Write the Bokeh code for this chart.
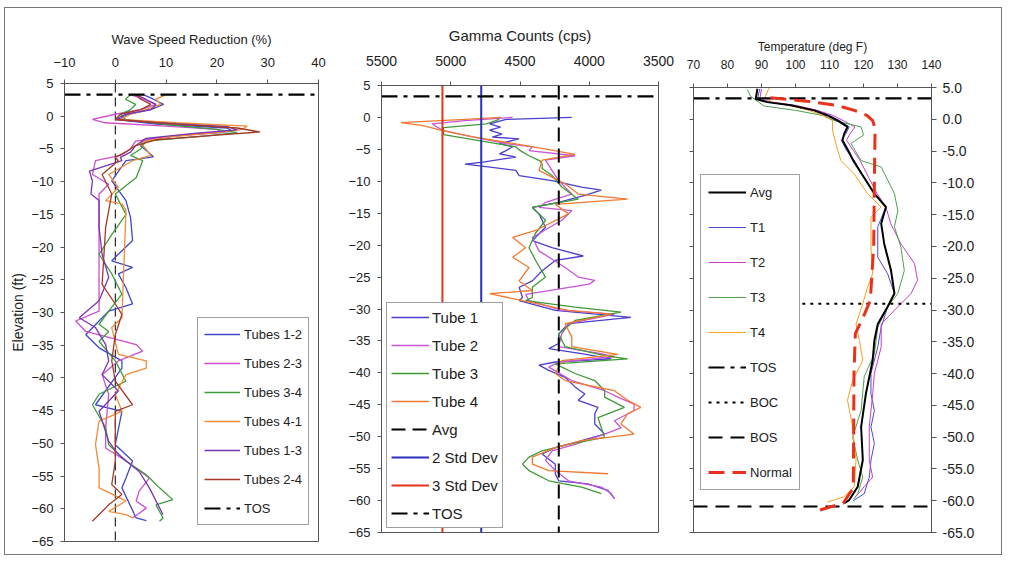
from bokeh.plotting import figure
from bokeh.models import Range1d, FixedTicker, LinearAxis, Legend, LegendItem, NumeralTickFormatter
from bokeh.layouts import row, column
from bokeh.embed import file_html
from bokeh.resources import INLINE

FONT = "Liberation Sans"

# ---------------- common ----------------
elev_ticks = [5, 0, -5, -10, -15, -20, -25, -30, -35, -40, -45, -50, -55, -60, -65]
elev_min, elev_max = -65, 5
tos_elev = 3.3

# ---------------- panel 1 : wave speed reduction ----------------
ws_ticks = [-10, 0, 10, 20, 30, 40]
ws_min, ws_max = -10, 40

t12_e = [3.3, 2.6, 1.8, 1.0, 0.3, -0.5, -1.2, -1.8, -2.3, -2.8, -3.6, -4.5, -5.5, -6.2, -6.8, -9.9, -12.9, -15.5, -19.0, -21.1,
         -22.1, -23.1, -24.1, -26.2, -28.7, -29.8, -31.3, -33.4, -35.4, -37.4, -38.5, -44.1, -45.1, -50.2, -52.7, -55.3, -56.8, -61.4, -61.8]
t12_v = [5.5, 7.5, 9.5, 7, 2.5, 0.5, 8, 22, 23, 14, 5.5, 5, 6.5, 7.5, 2.1, -0.7, 2.1, 3.0, 3.4, 0.6,
         -0.7, 3.4, 0.6, 2.1, 3.4, -1.3, -3.2, -5.8, -3.2, 1.3, 1.3, -3.9, 1.3, 0, 3.4, 2.1, 1.3, 4.1, 6.1]

t23_e = [3.3, 2.6, 1.8, 1.0, 0.3, -0.5, -1.0, -1.5, -2.0, -2.5, -3.0, -3.8, -5.0, -6.0, -6.8, -8.9, -10.4, -11.9, -22.1, -29.8,
         -31.3, -32.9, -34.9, -35.9, -37.4, -39.5, -42.5, -47.6, -50.7, -52.7, -55.3, -57.3, -58.8, -59.9, -61.4]
t23_v = [3, 5.5, 8, 5, 0, -4.5, -2, 10, 20, 21, 12, 4, 3, 1, -3.9, -4.5, -1.3, -3.2, -3.2, -3.2,
         -7.8, -5.8, 4.1, 5.4, 0.6, -2.6, -1.3, -1.9, -1.9, 2.1, 6.7, 4.7, 4.1, 6.1, 3.4]

t34_e = [3.3, 2.6, 1.8, 1.0, 0.3, -0.5, -1.3, -2.0, -2.5, -3.0, -3.8, -5.0, -6.0, -6.8, -9.4, -11.9, -15.0, -18.1, -21.1, -24.1,
         -27.2, -29.8, -31.8, -32.9, -34.4, -37.4, -40.5, -42.5, -44.1, -47.6, -50.2, -52.7, -54.8, -56.8, -58.6, -59.4, -61.4, -61.9]
t34_v = [3, 2, 4, 3, 1, 2, 10, 20, 24, 18, 6, 5, 3, 5.4, 4.1, 0, 2.1, -0.7, -3.2, -0.7,
         1.3, -1.3, -3.2, -1.3, -3.2, 0, 2.1, -3.2, -4.5, -1.9, -1.3, 2.1, 6.1, 8.7, 11.3, 8.0, 9.4, 8.7]

t41_e = [3.3, 2.6, 1.8, 1.0, 0.3, -0.5, -1.0, -1.5, -2.0, -2.5, -3.2, -4.0, -5.0, -6.0, -6.8, -8.9, -10.9, -12.9, -13.4, -14.4,
         -30.8, -32.3, -36.4, -37.4, -38.5, -39.5, -42.5, -45.1, -46.6, -50.2, -53.8, -56.8, -58.8, -60.4, -60.9, -61.4]
t41_v = [10, 8, 9, 6, 3, 1, 12, 26, 25, 20, 10, 5, 6, 7, 3.4, -1.3, 0.6, -1.9, 1.3, 2.1,
         1.3, -0.7, 0.6, 6.1, 6.1, 2.1, 0, 1.3, -3.2, -3.9, -3.2, -3.2, 2.1, -1.3, 2.1, 3.4]

t13_e = [3.3, 2.6, 1.8, 1.0, 0.3, -0.5, -1.0, -1.6, -2.1, -2.6, -3.4, -4.5, -5.5, -6.3, -6.8, -8.4, -9.9, -11.9, -12.9, -17.0,
         -21.1, -24.6, -28.2, -30.8, -32.3, -34.9, -37.4, -39.5, -42.0, -45.1, -49.7, -51.7, -54.3, -56.8, -60.9]
t13_v = [4, 6, 8, 7, 2, 0, 8, 22, 24, 16, 6, 4, 3, 1, 1.3, -5.1, -4.5, -4.8, -3.2, -3.2,
         -2.6, -1.3, -3.2, -7.1, -3.9, -1.9, -1.3, -2.6, 0.6, -3.2, -1.3, 0.6, 4.7, 6.7, 9.4]

t24_e = [3.3, 2.6, 1.8, 1.0, 0.3, -0.5, -1.2, -1.8, -2.4, -2.9, -3.6, -4.5, -5.5, -6.3, -6.8, -8.9, -11.9, -17.0, -25.7, -28.7,
         -30.3, -33.4, -37.4, -40.5, -44.1, -45.1, -52.7, -56.3, -57.8, -59.4, -61.9]
t24_v = [4, 5, 7, 5, 1, 0, 12, 24, 28.5, 20, 8, 4, 2, 0, 0.6, -2.6, -0.7, -1.9, -2.6, 0,
         1.3, 0, -0.7, 0, 3.4, 0, 0, -0.7, 1.3, -1.3, -4.5]

ws_zero = 0

# ---------------- panel 2 : gamma counts ----------------
g_ticks = [5500, 5000, 4500, 4000, 3500]
g_left, g_right = 5500, 3500
g_avg, g_sd2, g_sd3 = 4220, 4780, 5060

tube1_e = [0.0, -0.3, -1.0, -1.5, -2.0, -2.6, -3.1, -3.35, -4.1, -4.6, -5.2, -5.7, -6.2, -7.0, -7.3, -7.6, -8.3, -9.1, -9.9, -10.9,
           -11.4, -12.2, -13.3, -14.1, -15.1, -17.2, -19.3, -20.4, -21.7, -22.4, -24.0, -25.6, -26.6, -28.2, -28.7, -30.2, -31.3, -32.3, -33.9, -35.4,
           -36.2, -37.0, -37.8, -38.3, -38.8, -39.6, -40.7, -42.2, -43.3, -44.3, -45.4, -46.4, -48.0, -49.6, -50.6, -51.7, -52.7, -54.3, -55.8, -56.9,
           -57.4, -58.4, -59.7]
tube1_v = [4126, 4600, 4719, 4640, 4720, 4630, 4700, 4506, 4648, 4553, 4601, 4648, 4530, 4767, 4897, 4790, 4530, 4506, 4269, 4055,
           3913, 4032, 4221, 4411, 4363, 4316, 4411, 4269, 4043, 4245, 4340, 4411, 4506, 4482, 4506, 4245, 3699, 4150, 4221, 4221,
           4292, 4055, 3842, 4245, 4363, 4292, 4174, 4103, 4032, 4079, 3937, 3960, 3960, 3889, 4055, 4245, 4340, 4245, 4245, 4221,
           4010, 3865, 3818]

tube2_e = [0.0, -0.5, -1.0, -1.5, -2.05, -3.0, -4.1, -4.6, -5.2, -6.0, -6.7, -8.3, -9.9, -12.0, -13.3, -14.1, -14.6, -16.1, -18.8, -20.9,
           -23.5, -25.0, -25.5, -26.1, -27.7, -28.7, -30.2, -30.8, -32.3, -33.9, -35.9, -37.0, -37.5, -38.3, -39.1, -41.2, -42.8, -43.8, -44.9, -45.9,
           -47.5, -48.6, -49.6, -51.2, -52.2, -53.7, -55.3, -56.9, -57.9, -58.9, -59.7]
tube2_v = [4553, 4900, 5135, 5100, 5052, 4850, 4600, 4411, 4435, 4103, 4316, 4269, 4221, 4126, 4316, 4363, 4126, 4198, 4411, 4363,
           4174, 4079, 3960, 4000, 4459, 4435, 4198, 3818, 4150, 4198, 4221, 3913, 3818, 4221, 4292, 4126, 3889, 3794, 3676, 3676,
           3818, 3771, 3889, 4103, 4269, 4316, 4245, 4150, 3913, 3842, 3818]

tube3_e = [-0.3, -1.0, -1.6, -2.7, -4.6, -5.2, -6.0, -6.8, -7.3, -8.0, -9.1, -10.9, -12.8, -14.1, -16.1, -18.1, -20.4, -22.4, -25.0, -26.6,
           -28.2, -28.7, -29.7, -30.5, -31.8, -33.9, -35.9, -37.3, -37.8, -38.6, -40.1, -41.2, -42.8, -43.8, -45.4, -47.0, -48.6, -50.1, -51.2, -52.2,
           -53.2, -54.3, -55.3, -56.9, -57.9, -58.9]
tube3_v = [4650, 4743, 5052, 5052, 4530, 4498, 4435, 4356, 4340, 4340, 4269, 4198, 4079, 4411, 4316, 4387, 4435, 4387, 4316, 4411,
           4411, 4459, 4103, 3771, 4103, 4221, 4174, 3889, 3723, 4245, 4103, 3960, 3889, 3889, 3746, 3937, 3913, 3889, 4150, 4340,
           4435, 4482, 4435, 4292, 4055, 3913]

tube4_e = [0.0, -0.3, -0.8, -1.3, -2.0, -3.0, -4.5, -5.0, -5.8, -6.7, -8.3, -10.4, -12.0, -12.8, -13.6, -15.1, -17.7, -18.8, -20.4, -21.9,
           -23.5, -25.6, -27.1, -27.6, -28.7, -30.2, -30.8, -32.3, -34.4, -35.9, -37.1, -38.1, -40.1, -41.2, -42.8, -44.3, -45.4, -46.4, -48.0, -49.6,
           -50.6, -51.7, -53.2, -54.3, -55.3, -55.8]
tube4_v = [4637, 4900, 5360, 5200, 5075, 4850, 4435, 4300, 4103, 4340, 4363, 4174, 4079, 3723, 4245, 4150, 4387, 4553, 4459, 4553,
           4435, 4506, 4411, 4719, 4482, 4150, 3842, 4174, 4126, 4126, 3794, 4198, 4245, 4174, 3818, 3723, 3628, 3723, 3771, 3676,
           4055, 4245, 4411, 4411, 4292, 3865]

# ---------------- panel 3 : temperature ----------------
t_ticks = [70, 80, 90, 100, 110, 120, 130, 140]
t_min, t_max = 70, 140
boc_elev, bos_elev = -29.0, -60.9
boc_start = 102

avg_e = [4.8, 3.2, 2.7, 2.2, 1.4, 0.6, -0.2, -1.2, -2.3, -3.3, -4.9, -6.5, -8.6, -11.7, -13.8, -16.4, -19.6, -23.8, -27.4, -29.5,
         -32.2, -34.8, -37.9, -43.2, -48.4, -53.6, -57.8, -59.9, -60.4]
avg_v = [88.8, 88.3, 91.7, 98.6, 105.5, 109.4, 112.4, 115.3, 114.3, 113.8, 115.5, 117.0, 119.5, 123.2, 126.6, 125.2, 126.1, 128.1, 129.1, 127.1,
         124.2, 123.2, 122.7, 120.7, 119.3, 119.8, 118.3, 115.8, 114.3]

tt1_e = [4.8, 3.2, 2.7, 2.2, 1.4, 0.6, -0.2, -1.2, -2.3, -3.3, -4.9, -6.5, -8.6, -11.7, -13.8, -16.9, -21.7, -24.3, -27.4, -29.5,
         -32.7, -35.8, -40.0, -43.2, -45.8, -48.4, -51.0, -53.6, -56.3, -58.9, -60.0]
tt1_v = [89.5, 88.8, 92, 99, 106, 110, 113, 115.8, 114.8, 113.5, 115, 117.3, 119.5, 123.2, 126.6, 124.2, 124.2, 127.1, 129.1, 127.1,
         125.2, 124.2, 122.2, 122.2, 123.2, 122.2, 123.2, 122.2, 121.7, 120.2, 117]

tt2_e = [4.8, 3.2, 2.7, 2.2, 1.4, 0.6, -0.2, -1.2, -2.3, -3.3, -4.9, -6.5, -8.6, -11.7, -13.8, -16.4, -19.6, -22.7, -25.3, -27.4,
         -29.5, -32.2, -35.8, -40.0, -43.2, -48.4, -53.6, -56.3, -57.8, -59.5]
tt2_v = [90, 89.5, 93, 100, 106.5, 111, 114, 117.5, 116, 115, 117, 119, 121, 124, 126.6, 128, 131, 135, 135.9, 134,
         130.1, 125.2, 125.2, 123.2, 122.7, 121.7, 121.7, 122.7, 120.2, 117.5]

tt3_e = [4.7, 3.6, 2.1, 1.4, 0.6, -0.2, -1.2, -2.5, -3.8, -6.5, -7.5, -11.7, -14.4, -16.9, -20.1, -23.8, -27.4, -29.5, -32.7, -36.9,
         -40.5, -45.8, -50.0, -53.6, -56.3, -58.9, -59.8]
tt3_v = [85.8, 86.8, 90.7, 100, 108, 111.4, 119.3, 120, 116.3, 119.3, 125.2, 129.1, 130.1, 129.1, 131, 132, 130.1, 127.1, 124.2, 123.2,
         120.2, 119.3, 116.8, 118.3, 119.8, 118.3, 117]

tt4_e = [4.9, 3.5, 2.7, 2.2, 1.4, 0.6, -0.2, -1.8, -4.9, -6.5, -8.6, -11.7, -13.8, -15.4, -20.1, -24.3, -26.4, -29.0, -32.2, -34.8,
         -37.9, -41.1, -44.2, -48.4, -53.6, -57.8, -59.4, -60.2]
tt4_v = [92.2, 91, 93, 98, 104, 108, 110.9, 110.9, 112.4, 113.4, 117.3, 121.2, 125.2, 122.2, 122.2, 122.7, 121.2, 119.8, 117.8, 118.8,
         119.8, 116.8, 115.3, 116.8, 117.8, 117.3, 114.2, 109.4]

normal_e = [3.4, 2.8, 2.2, 1.4, 0.6, -0.2, -1.5, -10, -20, -28.5, -31, -33.7, -40, -50, -58, -60.4, -61.8]
normal_v = [92.6, 104, 112, 117.3, 121, 122.7, 123.4, 123.2, 123, 122, 120, 117.6, 117.2, 117.1, 117, 114, 105]

# ---------------- helpers ----------------
AX = "#555555"
TXT = "#222222"
H = 546


def style_axis(ax, size, standoff, label_size=None, label_standoff=5, tick_out=4):
    ax.axis_line_color = AX
    ax.major_tick_line_color = AX
    ax.minor_tick_line_color = None
    ax.major_tick_out = tick_out
    ax.major_tick_in = 0
    ax.major_label_text_font = FONT
    ax.major_label_text_font_size = size
    ax.major_label_text_color = TXT
    ax.major_label_standoff = standoff
    ax.axis_label_text_font = FONT
    ax.axis_label_text_font_style = "normal"
    ax.axis_label_text_color = TXT
    if label_size:
        ax.axis_label_text_font_size = label_size
    ax.axis_label_standoff = label_standoff


def base(width, xr, yloc, bl, br, bt, bb):
    p = figure(width=width, height=H, x_range=xr, y_range=Range1d(elev_min, elev_max),
               x_axis_location="above", y_axis_location=yloc,
               output_backend="svg", toolbar_location=None,
               min_border_left=bl, min_border_right=br, min_border_top=bt, min_border_bottom=bb)
    p.xgrid.visible = False
    p.ygrid.visible = False
    p.outline_line_color = AX
    p.outline_line_width = 1
    p.background_fill_color = "white"
    p.border_fill_color = "white"
    return p


def make_legend(items, loc, size, spacing, padding, glyph_w, standoff=4):
    leg = Legend(items=items, location=loc)
    leg.label_text_font = FONT
    leg.label_text_font_size = size
    leg.label_text_color = TXT
    leg.glyph_width = glyph_w
    leg.glyph_height = 20
    leg.label_height = 20
    leg.label_standoff = standoff
    leg.spacing = spacing
    leg.padding = padding
    leg.margin = 0
    leg.border_line_color = "#444444"
    leg.border_line_width = 1
    leg.background_fill_color = "white"
    leg.background_fill_alpha = 1
    return leg


TOS_DASH = "16 6 4 6"

# ---------------- panel 1 ----------------
p1 = base(340, Range1d(ws_min, ws_max), "left", 59, 27, 75, 13)
p1.xaxis.ticker = FixedTicker(ticks=ws_ticks)
p1.yaxis.ticker = FixedTicker(ticks=elev_ticks)
p1.xaxis.axis_label = "Wave Speed Reduction (%)"
p1.yaxis.axis_label = "Elevation (ft)"
style_axis(p1.xaxis[0], "13px", 13, "13px", 8)
style_axis(p1.yaxis[0], "13px", 7, "14px", 2)

p1.line([ws_zero, ws_zero], [elev_max, elev_min], line_color="black", line_width=1, line_dash="9 5")
c1 = {"12": "#3f48c8", "23": "#cc4fcc", "34": "#3e9e3e", "41": "#f28a38", "13": "#7a35b0", "24": "#a33a28"}
r12 = p1.line(t12_v, t12_e, line_color=c1["12"], line_width=1.3)
r23 = p1.line(t23_v, t23_e, line_color=c1["23"], line_width=1.3)
r34 = p1.line(t34_v, t34_e, line_color=c1["34"], line_width=1.3)
r41 = p1.line(t41_v, t41_e, line_color=c1["41"], line_width=1.3)
r13 = p1.line(t13_v, t13_e, line_color=c1["13"], line_width=1.3)
r24 = p1.line(t24_v, t24_e, line_color=c1["24"], line_width=1.3)
rtos1 = p1.line([ws_min, ws_max], [tos_elev, tos_elev], line_color="black", line_width=2.2, line_dash=TOS_DASH)

p1.add_layout(make_legend([
    LegendItem(label="Tubes 1-2", renderers=[r12]),
    LegendItem(label="Tubes 2-3", renderers=[r23]),
    LegendItem(label="Tubes 3-4", renderers=[r34]),
    LegendItem(label="Tubes 4-1", renderers=[r41]),
    LegendItem(label="Tubes 1-3", renderers=[r13]),
    LegendItem(label="Tubes 2-4", renderers=[r24]),
    LegendItem(label="TOS", renderers=[rtos1]),
], (133, 16), "13px", 9, 6, 36))

# ---------------- panel 2 ----------------
p2 = base(331, Range1d(g_left, g_right), "left", 32, 18, 77, 22)
p2.xaxis.ticker = FixedTicker(ticks=g_ticks)
p2.yaxis.ticker = FixedTicker(ticks=elev_ticks)
p2.xaxis.axis_label = "Gamma Counts (cps)"
style_axis(p2.xaxis[0], "14px", 16, "15px", 9)
style_axis(p2.yaxis[0], "13px", 7)

rg1 = p2.line(tube1_v, tube1_e, line_color="#4a3fd0", line_width=1.3)
rg2 = p2.line(tube2_v, tube2_e, line_color="#c855d8", line_width=1.3)
rg3 = p2.line(tube3_v, tube3_e, line_color="#3f9a35", line_width=1.3)
rg4 = p2.line(tube4_v, tube4_e, line_color="#f07a30", line_width=1.3)
rga = p2.line([g_avg, g_avg], [elev_max, elev_min], line_color="black", line_width=2, line_dash="14 7")
rg2s = p2.line([g_sd2, g_sd2], [elev_max, elev_min], line_color="#2a30c0", line_width=2)
rg3s = p2.line([g_sd3, g_sd3], [elev_max, elev_min], line_color="#e8321e", line_width=2)
rtos2 = p2.line([g_left, g_right], [tos_elev, tos_elev], line_color="black", line_width=2.2, line_dash=TOS_DASH)

p2.add_layout(make_legend([
    LegendItem(label="Tube 1", renderers=[rg1]),
    LegendItem(label="Tube 2", renderers=[rg2]),
    LegendItem(label="Tube 3", renderers=[rg3]),
    LegendItem(label="Tube 4", renderers=[rg4]),
    LegendItem(label="Avg", renderers=[rga]),
    LegendItem(label="2 Std Dev", renderers=[rg2s]),
    LegendItem(label="3 Std Dev", renderers=[rg3s]),
    LegendItem(label="TOS", renderers=[rtos2]),
], (5, 4), "15px", 8, 4, 38, 3))

# ---------------- panel 3 ----------------
p3 = base(325, Range1d(t_min, t_max), "right", 17, 70, 79, 22)
p3.xaxis.ticker = FixedTicker(ticks=t_ticks)
p3.yaxis.ticker = FixedTicker(ticks=elev_ticks)
p3.yaxis.formatter = NumeralTickFormatter(format="0.0")
p3.xaxis.axis_label = "Temperature (deg F)"
style_axis(p3.xaxis[0], "12px", 15, "12px", 3)
style_axis(p3.yaxis[0], "14px", 6, tick_out=5)
left3 = LinearAxis(ticker=FixedTicker(ticks=elev_ticks))
style_axis(left3, "1px", 0)
left3.major_label_text_color = None
p3.add_layout(left3, "left")

rt1 = p3.line(tt1_v, tt1_e, line_color="#4a4ad2", line_width=1)
rt2 = p3.line(tt2_v, tt2_e, line_color="#c640c6", line_width=1)
rt3 = p3.line(tt3_v, tt3_e, line_color="#4fa04f", line_width=1)
rt4 = p3.line(tt4_v, tt4_e, line_color="#f2a21e", line_width=1)
rta = p3.line(avg_v, avg_e, line_color="black", line_width=2)
rtos3 = p3.line([t_min, t_max], [tos_elev, tos_elev], line_color="black", line_width=2.2, line_dash=TOS_DASH)
rboc = p3.line([boc_start, t_max], [boc_elev, boc_elev], line_color="black", line_width=2, line_dash="3 5")
rbos = p3.line([t_min, t_max], [bos_elev, bos_elev], line_color="black", line_width=2, line_dash="14 8")
rnorm = p3.line(normal_v, normal_e, line_color="#e8321e", line_width=3, line_dash="16 8")

p3.add_layout(make_legend([
    LegendItem(label="Avg", renderers=[rta]),
    LegendItem(label="T1", renderers=[rt1]),
    LegendItem(label="T2", renderers=[rt2]),
    LegendItem(label="T3", renderers=[rt3]),
    LegendItem(label="T4", renderers=[rt4]),
    LegendItem(label="TOS", renderers=[rtos3]),
    LegendItem(label="BOC", renderers=[rboc]),
    LegendItem(label="BOS", renderers=[rbos]),
    LegendItem(label="Normal", renderers=[rnorm]),
], (7, 42), "13px", 15, 7, 38))

layout = row(column(p1), column(p2), column(p3),
             styles={"border": "1px solid #777777", "margin-left": "4px", "margin-top": "7px"})
open("out.html", "w").write(file_html(layout, INLINE))
